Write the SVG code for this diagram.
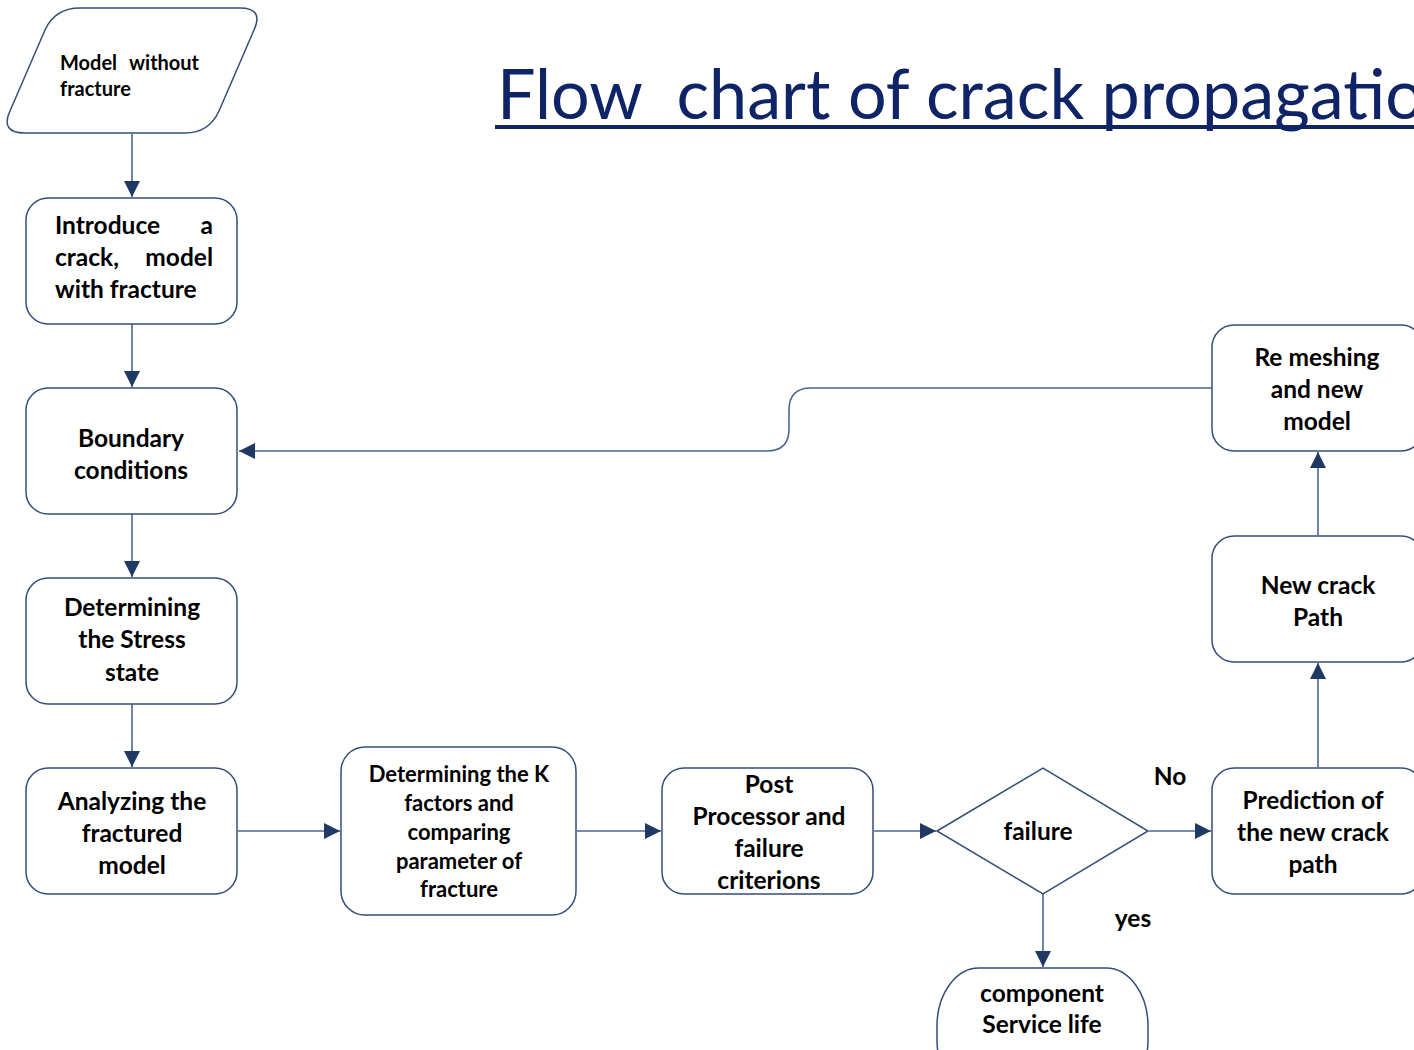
<svg xmlns="http://www.w3.org/2000/svg" width="1414" height="1050" viewBox="0 0 1414 1050">
<style>
.node{fill:#ffffff;stroke:#344d7a;stroke-width:1.5}
.edge{fill:none;stroke:#4d6690;stroke-width:1.6}
.t{font-family:Lato,"Open Sans","Liberation Sans",sans-serif;font-weight:bold;fill:#000000;text-anchor:middle}
.s22{font-size:24.5px}
.s20{font-size:22px}
.s18{font-size:20px}
.st{text-anchor:start}
.en{text-anchor:end}
</style>
<defs>
<marker id="arr" viewBox="0 0 16 16" refX="16" refY="8" markerWidth="16" markerHeight="16" markerUnits="userSpaceOnUse" orient="auto">
<path d="M0,0 L16,8 L0,16 Z" fill="#1f3864"/>
</marker>
</defs>
<rect width="1414" height="1050" fill="#ffffff"/>

<g id="title">
<text x="497" y="119" xml:space="preserve" font-family="Lato,'Open Sans','Liberation Sans',sans-serif" font-size="70" fill="#0f2466" textLength="965" lengthAdjust="spacingAndGlyphs">Flow  chart of crack propagation</text>
<line x1="495" y1="127" x2="1414" y2="127" stroke="#0f2466" stroke-width="4"/>
</g>

<g id="connectors">
<path class="edge" d="M132,134 V197" marker-end="url(#arr)"/>
<path class="edge" d="M132,324 V387" marker-end="url(#arr)"/>
<path class="edge" d="M132,514 V577" marker-end="url(#arr)"/>
<path class="edge" d="M132,704 V767" marker-end="url(#arr)"/>
<path class="edge" d="M238,831 H340" marker-end="url(#arr)"/>
<path class="edge" d="M577,831 H661" marker-end="url(#arr)"/>
<path class="edge" d="M874,831 H936" marker-end="url(#arr)"/>
<path class="edge" d="M1149,831 H1211" marker-end="url(#arr)"/>
<path class="edge" d="M1043,894 V967" marker-end="url(#arr)"/>
<path class="edge" d="M1318,767 V663" marker-end="url(#arr)"/>
<path class="edge" d="M1318,535 V452" marker-end="url(#arr)"/>
<path class="edge" d="M1212,388 H811 Q789,388 789,410 V429 Q789,451 767,451 H239" marker-end="url(#arr)"/>
<text class="t s22" x="1170" y="785">No</text>
<text class="t s22" x="1133" y="927">yes</text>
</g>

<g id="n_model">
<path class="node" d="M80,8 H240 Q264,8 254,30 L219,111 Q209,133 185,133 H25 Q0,133 10,111 L45,30 Q55,8 80,8 Z"/>
<text class="t s18 st" x="60" y="70">Model</text>
<text class="t s18 st" x="129" y="70">without</text>
<text class="t s18 st" x="60" y="96">fracture</text>
</g>

<g id="n_introduce">
<rect class="node" x="26" y="198" width="211" height="126" rx="22"/>
<text class="t s22 st" x="55" y="234">Introduce</text>
<text class="t s22 en" x="213" y="234">a</text>
<text class="t s22 st" x="55" y="266">crack,</text>
<text class="t s22 en" x="213" y="266">model</text>
<text class="t s22 st" x="55" y="298">with fracture</text>
</g>

<g id="n_boundary">
<rect class="node" x="26" y="388" width="211" height="126" rx="22"/>
<text class="t s22" x="131" y="447">Boundary</text>
<text class="t s22" x="131" y="479">conditions</text>
</g>

<g id="n_stress">
<rect class="node" x="26" y="578" width="211" height="126" rx="22"/>
<text class="t s22" x="132" y="616">Determining</text>
<text class="t s22" x="132" y="648">the Stress</text>
<text class="t s22" x="132" y="681">state</text>
</g>

<g id="n_analyzing">
<rect class="node" x="26" y="768" width="211" height="126" rx="22"/>
<text class="t s22" x="132" y="810">Analyzing the</text>
<text class="t s22" x="132" y="842">fractured</text>
<text class="t s22" x="132" y="874">model</text>
</g>

<g id="n_kfactors">
<rect class="node" x="341" y="747" width="235" height="168" rx="24"/>
<text class="t s20" x="459" y="782">Determining the K</text>
<text class="t s20" x="459" y="811">factors and</text>
<text class="t s20" x="459" y="840">comparing</text>
<text class="t s20" x="459" y="869">parameter of</text>
<text class="t s20" x="459" y="897">fracture</text>
</g>

<g id="n_post">
<rect class="node" x="662" y="768" width="211" height="126" rx="22"/>
<text class="t s22" x="769" y="793">Post</text>
<text class="t s22" x="769" y="825">Processor and</text>
<text class="t s22" x="769" y="857">failure</text>
<text class="t s22" x="769" y="889">criterions</text>
</g>

<g id="n_failure">
<path class="node" d="M937,831 L1043,768 L1148,831 L1043,894 Z"/>
<text class="t s22" x="1038" y="840">failure</text>
</g>

<g id="n_service">
<rect class="node" x="937" y="968" width="211" height="130" rx="42" ry="58"/>
<text class="t s22" x="1042" y="1002">component</text>
<text class="t s22" x="1042" y="1033">Service life</text>
</g>

<g id="n_prediction">
<rect class="node" x="1212" y="768" width="211" height="126" rx="22"/>
<text class="t s22" x="1313" y="809">Prediction of</text>
<text class="t s22" x="1313" y="841">the new crack</text>
<text class="t s22" x="1313" y="873">path</text>
</g>

<g id="n_newpath">
<rect class="node" x="1212" y="536" width="211" height="126" rx="22"/>
<text class="t s22" x="1318" y="594">New crack</text>
<text class="t s22" x="1318" y="626">Path</text>
</g>

<g id="n_remesh">
<rect class="node" x="1212" y="325" width="211" height="126" rx="22"/>
<text class="t s22" x="1317" y="366">Re meshing</text>
<text class="t s22" x="1317" y="398">and new</text>
<text class="t s22" x="1317" y="430">model</text>
</g>
</svg>
